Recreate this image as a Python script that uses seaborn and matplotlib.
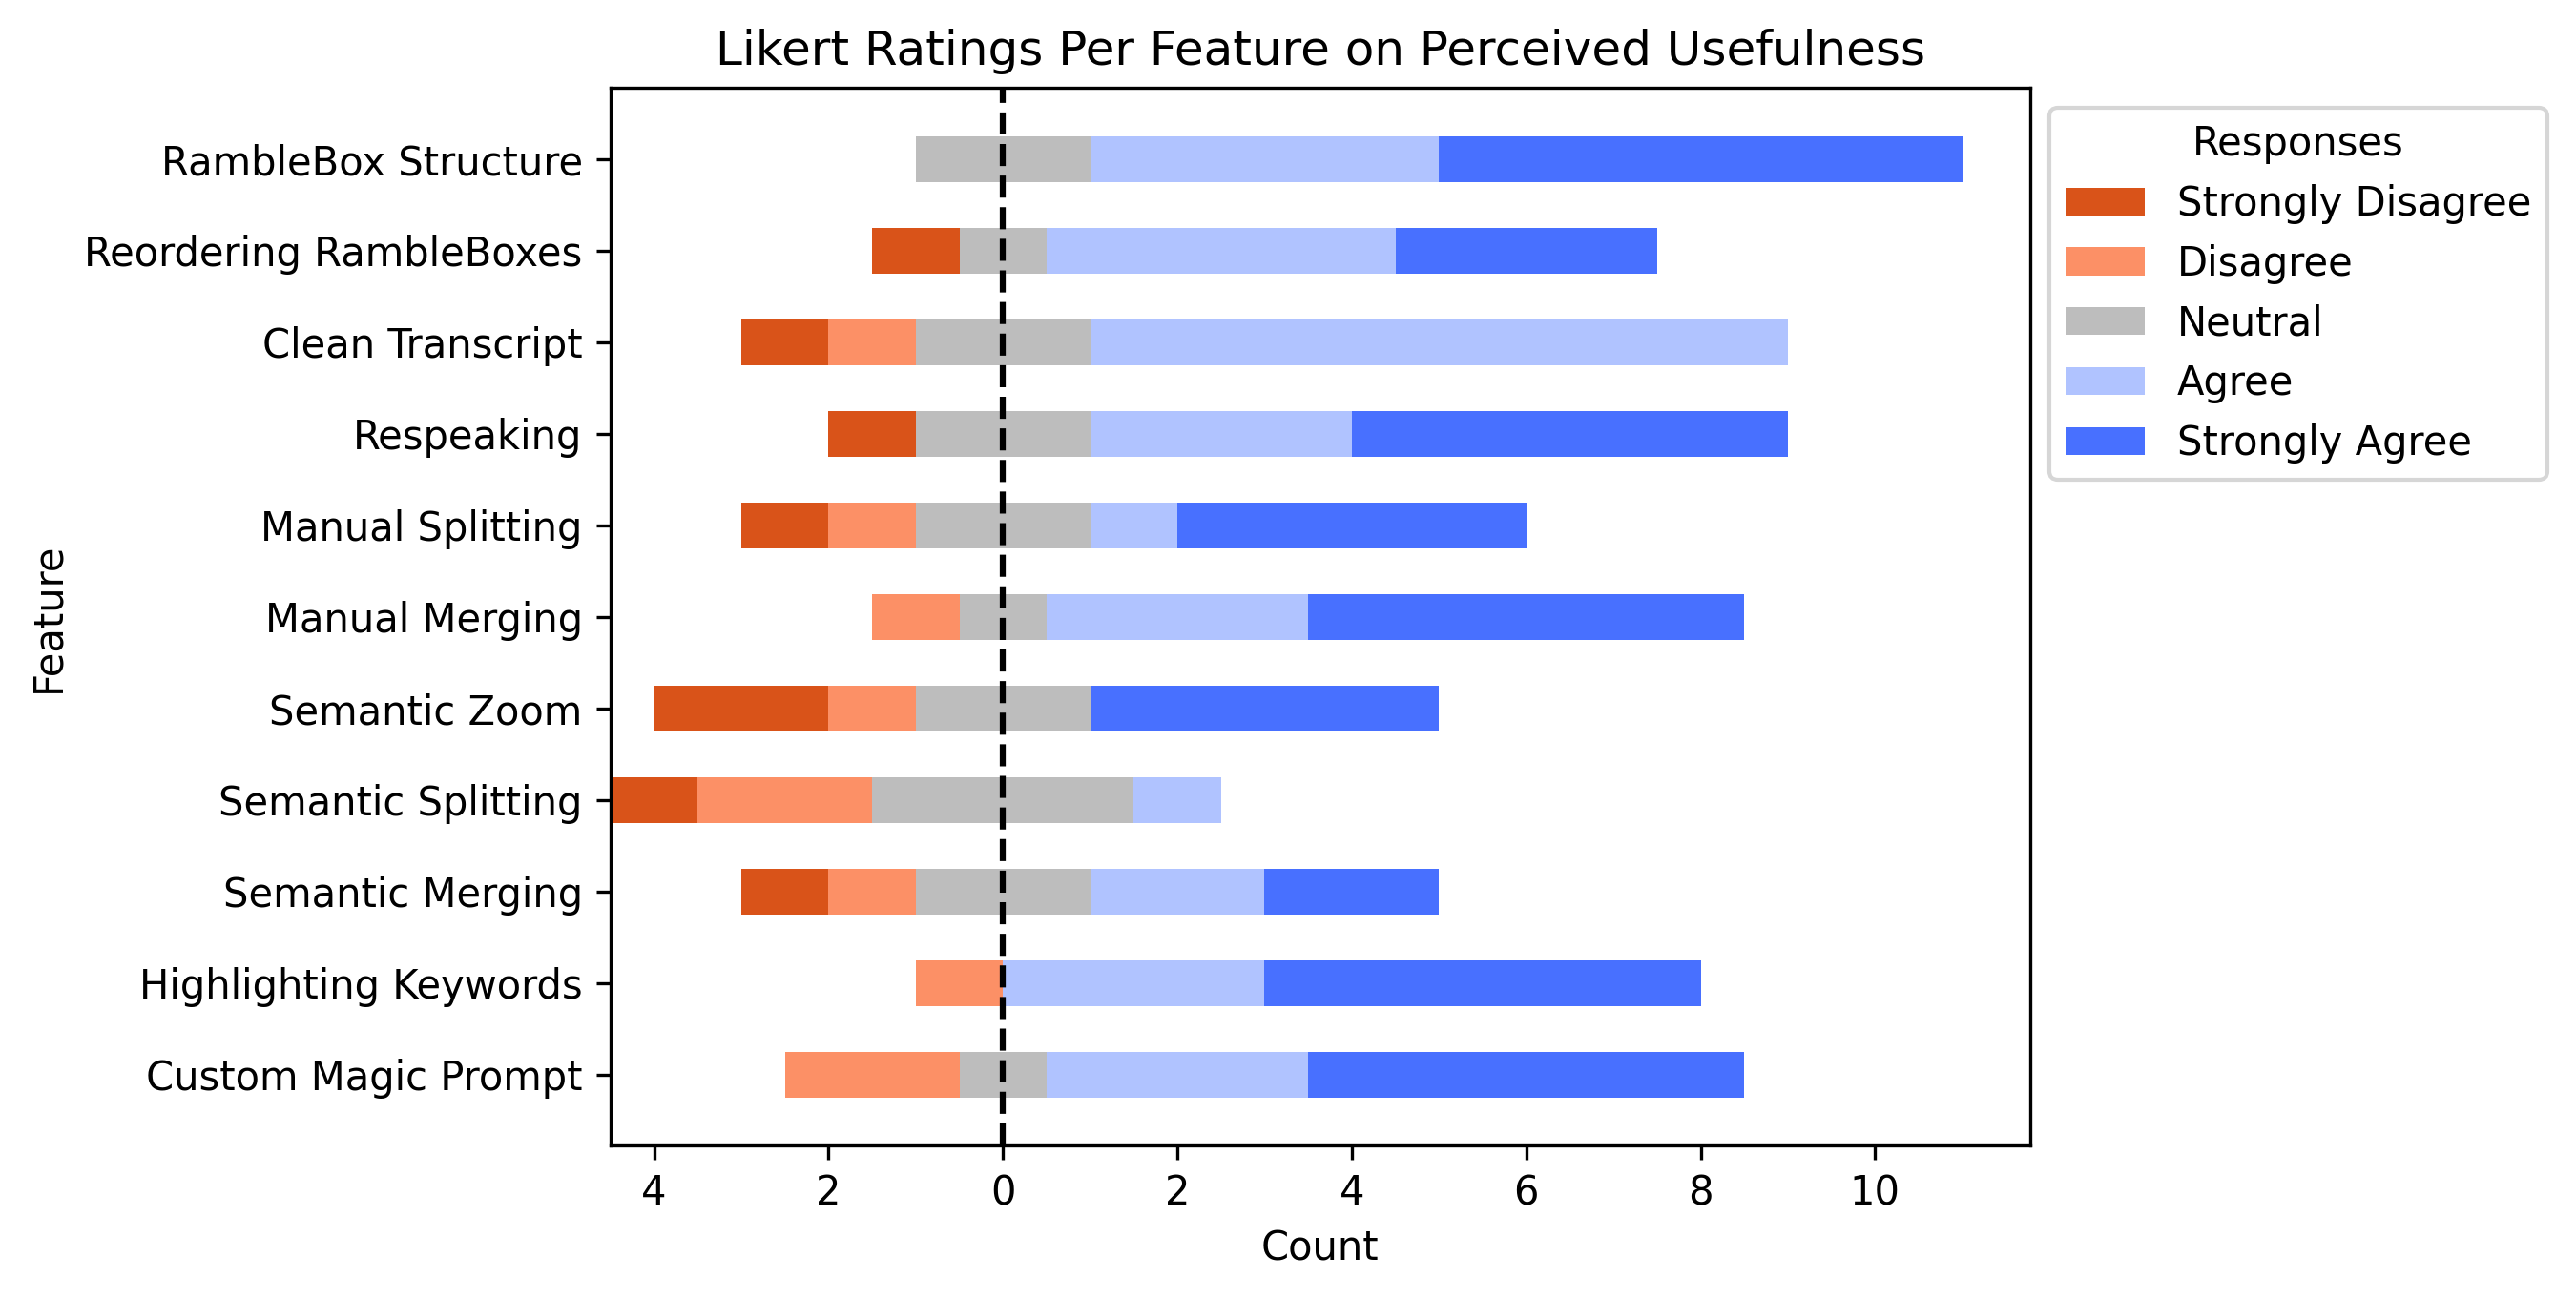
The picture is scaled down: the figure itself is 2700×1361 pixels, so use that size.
import numpy as np
import pandas as pd
import matplotlib
matplotlib.use('Agg')
import matplotlib.pyplot as plt
from matplotlib.patches import Patch
from matplotlib.ticker import FuncFormatter
import seaborn as sns

# Data: counts per response level for each feature
features = ['RambleBox Structure', 'Reordering RambleBoxes', 'Clean Transcript',
            'Respeaking', 'Manual Splitting', 'Manual Merging', 'Semantic Zoom',
            'Semantic Splitting', 'Semantic Merging', 'Highlighting Keywords',
            'Custom Magic Prompt']
strongly_disagree = [0, 1, 1, 1, 1, 0, 2, 1, 1, 0, 0]
disagree = [0, 0, 1, 0, 1, 1, 1, 2, 1, 1, 2]
neutral = [2, 1, 2, 2, 2, 1, 2, 3, 2, 0, 1]
agree = [4, 4, 8, 3, 1, 3, 0, 1, 2, 3, 3]
strongly_agree = [6, 3, 0, 5, 4, 5, 4, 0, 2, 5, 5]

levels = ['Strongly Disagree', 'Disagree', 'Neutral', 'Agree', 'Strongly Agree']
colors = ['#D95319', '#FC9066', '#BDBDBD', '#B0C3FF', '#4870FF']

df = pd.DataFrame({'Feature': features, 'sd': strongly_disagree, 'd': disagree,
                   'n': neutral, 'a': agree, 'sa': strongly_agree})
# diverging layout: neutral centred on zero
df['n_pos'] = df['n'] / 2
df['a_pos'] = df['n_pos'] + df['a']
df['sa_pos'] = df['a_pos'] + df['sa']
df['n_neg'] = -df['n'] / 2
df['d_neg'] = df['n_neg'] - df['d']
df['sd_neg'] = df['d_neg'] - df['sd']

fig, ax = plt.subplots(figsize=(9, 4.537), dpi=300)
fig.subplots_adjust(left=0.237, right=0.788, top=0.932, bottom=0.1176)

# draw outer segments first, inner ones on top
layers = [('sa_pos', colors[4]), ('a_pos', colors[3]), ('n_pos', colors[2]),
          ('sd_neg', colors[0]), ('d_neg', colors[1]), ('n_neg', colors[2])]
for col, c in layers:
    sns.barplot(data=df, x=col, y='Feature', order=features, orient='h',
                color=c, saturation=1, width=0.5, errorbar=None,
                linewidth=0, ax=ax)

ax.axvline(0, color='black', linestyle='--', linewidth=1.5, zorder=5)

lo = df['sd_neg'].min()
hi = df['sa_pos'].max()
ax.set_xlim(lo, hi + 0.05 * (hi - lo))
n = len(features)
ymargin = 0.25 + 0.05 * (n - 1 + 0.5)
ax.set_ylim(n - 1 + ymargin, -ymargin)

ax.xaxis.set_major_formatter(FuncFormatter(lambda v, p: f'{abs(v):g}'))
ax.set_title('Likert Ratings Per Feature on Perceived Usefulness')
ax.set_xlabel('Count')
ax.set_ylabel('Feature')

handles = [Patch(facecolor=c, label=l) for c, l in zip(colors, levels)]
ax.legend(handles=handles, title='Responses', bbox_to_anchor=(1, 1),
          loc='upper left')

plt.savefig('out.png', dpi=300)
